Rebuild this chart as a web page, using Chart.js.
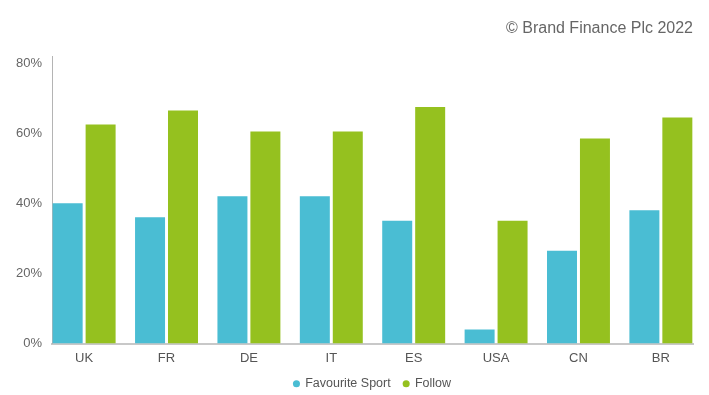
<!DOCTYPE html>
<html>
<head>
<meta charset="utf-8">
<script src="https://cdn.jsdelivr.net/npm/chart.js@4/dist/chart.umd.min.js"></script>
<style>
  html, body { margin: 0; padding: 0; background: #ffffff; }
  #wrap { width: 709px; height: 395px; position: relative; }
</style>
</head>
<body>
<div id="wrap"><canvas id="grafica_deporte"></canvas></div>
<script>
// datos
const paises = ['UK', 'FR', 'DE', 'IT', 'ES', 'USA', 'CN', 'BR'];
const deporte_favorito = [40, 36, 42, 42, 35, 4, 26.5, 38];
const seguir = [62.5, 66.5, 60.5, 60.5, 67.5, 35, 58.5, 64.5];
const ticks_y = [0, 20, 40, 60, 80];

const color_azul = '#4abdd3';
const color_verde = '#95c11f';

// eje x lineal para controlar el margen a los lados
function puntos(valores) {
    return valores.map(function(v, i) { return { x: i, y: v }; });
}

new Chart(document.getElementById('grafica_deporte'), {
    type: 'bar',
    data: {
        datasets: [
            {
                label: 'Favourite Sport',
                data: puntos(deporte_favorito),
                backgroundColor: color_azul,
                categoryPercentage: 0.8,
                barPercentage: 0.91
            },
            {
                label: 'Follow',
                data: puntos(seguir),
                backgroundColor: color_verde,
                categoryPercentage: 0.8,
                barPercentage: 0.91
            }
        ]
    },
    options: {
        responsive: true,
        maintainAspectRatio: false,
        animation: false,
        layout: { padding: { left: 0, right: 16, top: 8, bottom: -5 } },
        plugins: {
            title: {
                display: true,
                text: '\u00A9 Brand Finance Plc 2022',
                align: 'end',
                color: '#666666',
                font: { family: 'Liberation Sans', size: 16, weight: 'normal' },
                padding: { top: 11, bottom: 18 }
            },
            legend: {
                position: 'bottom',
                fullSize: false,
                labels: {
                    usePointStyle: true,
                    pointStyle: 'circle',
                    boxWidth: 5,
                    boxHeight: 5,
                    padding: 13,
                    color: '#555555',
                    font: { family: 'Liberation Sans', size: 12.5 }
                }
            },
            tooltip: { enabled: false }
        },
        scales: {
            x: {
                type: 'linear',
                min: -0.39,
                max: paises.length - 1 + 0.39,
                offset: false,
                grid: { display: false, drawTicks: false },
                border: { display: true, color: '#c8c8c8', width: 2 },
                afterBuildTicks: function(scale) {
                    scale.ticks = paises.map(function(p, i) { return { value: i }; });
                },
                afterFit: function(scale) { scale.height = 21; },
                ticks: {
                    autoSkip: false,
                    maxRotation: 0,
                    padding: 7,
                    color: '#555555',
                    font: { family: 'Liberation Sans', size: 13 },
                    callback: function(v) { return paises[v]; }
                }
            },
            y: {
                min: 0,
                max: 82,
                grid: { display: false, drawTicks: false },
                border: { display: true, color: '#b4b4b4', width: 1 },
                afterBuildTicks: function(scale) {
                    scale.ticks = ticks_y.map(function(v) { return { value: v }; });
                },
                afterFit: function(scale) { scale.width = 52; },
                ticks: {
                    padding: 10,
                    color: '#666666',
                    font: { family: 'Liberation Sans', size: 13 },
                    callback: function(v) { return v + '%'; }
                }
            }
        }
    }
});
</script>
</body>
</html>
